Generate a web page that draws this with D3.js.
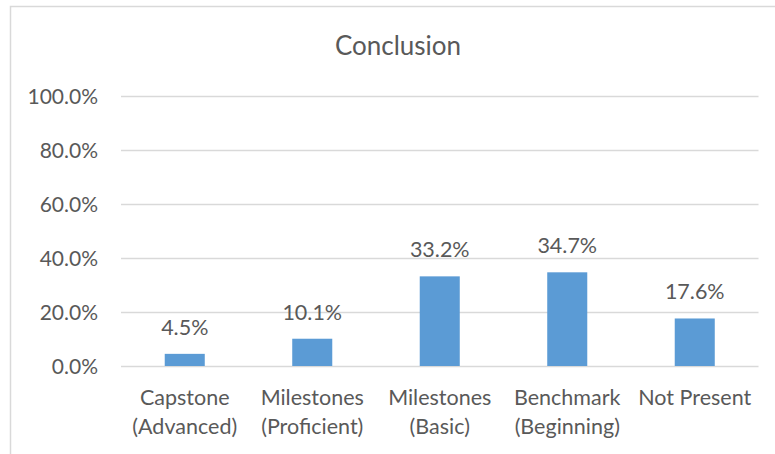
<!DOCTYPE html>
<html>
<head>
<meta charset="utf-8">
<script src="https://cdn.jsdelivr.net/npm/d3@7"></script>
<style>
  html, body { margin: 0; padding: 0; background: #fff; }
  svg text { font-family: Lato, "Open Sans", sans-serif; fill: #595959; }
</style>
</head>
<body>
<svg id="chart" width="775" height="454"></svg>
<script>
// Chart data
const categories = [
  ["Capstone", "(Advanced)"],
  ["Milestones", "(Proficient)"],
  ["Milestones", "(Basic)"],
  ["Benchmark", "(Beginning)"],
  ["Not Present"]
];
const values = [4.5, 10.1, 33.2, 34.7, 17.6];
const yTicks = [0, 20, 40, 60, 80, 100];
const title = "Conclusion";

const svg = d3.select("#chart");

// Outer chart frame (extends past the right and bottom edges)
svg.append("rect")
  .attr("x", 10.5).attr("y", 6.5)
  .attr("width", 800).attr("height", 500)
  .attr("fill", "#fff")
  .attr("stroke", "#d9d9d9").attr("stroke-width", 1.5);

const plot = { left: 121, right: 758.5, top: 96, bottom: 366 };

const x = d3.scaleBand()
  .domain(d3.range(values.length))
  .range([plot.left, plot.right])
  .paddingInner(0.686).paddingOuter(0.343);

const y = d3.scaleLinear().domain([0, 100]).range([plot.bottom, plot.top]);

// Gridlines and tick labels
const yAxis = d3.axisLeft(y)
  .tickValues(yTicks)
  .tickSize(-(plot.right - plot.left))
  .tickPadding(23)
  .tickFormat(d => d.toFixed(1) + "%");

const gy = svg.append("g")
  .attr("transform", `translate(${plot.left},0)`)
  .call(yAxis);
gy.select(".domain").remove();
gy.selectAll(".tick line").attr("stroke", "#d9d9d9").attr("stroke-width", 1.5);
gy.selectAll(".tick text")
  .attr("font-size", 21)
  .attr("font-family", "Lato, 'Open Sans', sans-serif")
  .attr("fill", "#595959")
  .attr("dy", "0.35em");

// Bars
svg.append("g").selectAll("rect")
  .data(values)
  .join("rect")
  .attr("x", (d, i) => x(i))
  .attr("width", x.bandwidth())
  .attr("y", d => y(d))
  .attr("height", d => y(0) - y(d))
  .attr("fill", "#5b9bd5");

// Value labels
svg.append("g").selectAll("text")
  .data(values)
  .join("text")
  .attr("x", (d, i) => x(i) + x.bandwidth() / 2)
  .attr("y", d => y(d) - 19)
  .attr("text-anchor", "middle")
  .attr("font-size", 21.5)
  .text(d => d.toFixed(1) + "%");

// Category labels
const cat = svg.append("g").selectAll("text")
  .data(categories)
  .join("text")
  .attr("x", (d, i) => x(i) + x.bandwidth() / 2)
  .attr("y", 405)
  .attr("text-anchor", "middle")
  .attr("font-size", 21.5);
cat.selectAll("tspan")
  .data(d => d)
  .join("tspan")
  .attr("x", function () { return d3.select(this.parentNode).attr("x"); })
  .attr("dy", (d, i) => i === 0 ? 0 : 29)
  .text(d => d);

// Title
svg.append("text")
  .attr("x", 398).attr("y", 55)
  .attr("text-anchor", "middle")
  .attr("font-size", 26)
  .text(title);
</script>
</body>
</html>
